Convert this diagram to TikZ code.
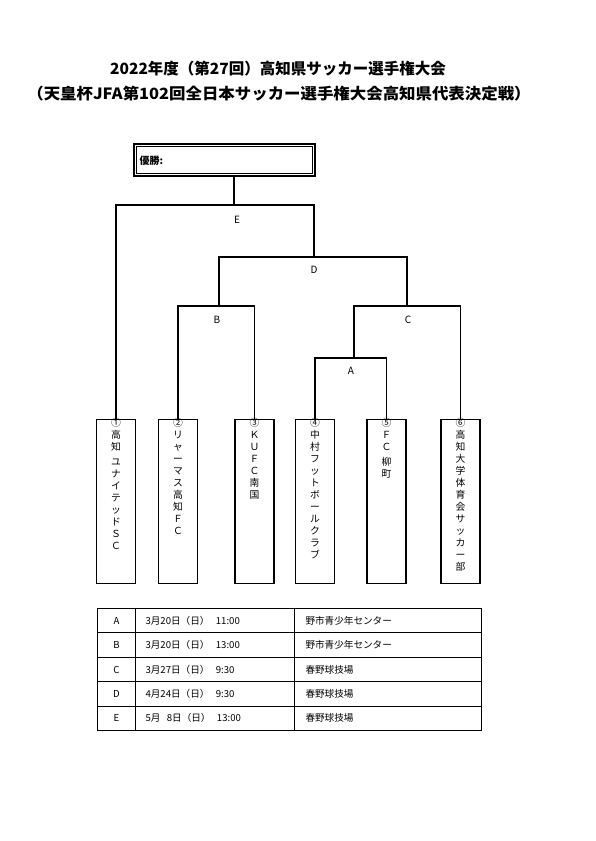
\documentclass[tikz,border=0pt]{standalone}
\usepackage{fontspec}
\setmainfont{Noto Sans CJK JP}
\begin{document}
\begin{tikzpicture}[x=1pt,y=-1pt,
  line width=1.1pt,
  team/.style={draw,line width=1.3pt,minimum width=39pt,minimum height=164pt,anchor=north,inner sep=0pt},
  vtext/.style={anchor=north,align=center,font=\fontsize{9.8}{12}\selectfont,inner sep=0pt},
  lbl/.style={font=\fontsize{10}{12}\selectfont},
  cell/.style={draw,line width=1pt,anchor=north west,minimum height=24.4pt,inner sep=0pt,font=\fontsize{9.6}{11}\selectfont},
  title/.style={font=\fontsize{15.5}{18}\selectfont\bfseries}]
\useasboundingbox (0,0) rectangle (595,841);
% titles
\node[title] (t1title) at (278,69) {2022年度（第27回）高知県サッカー選手権大会};
\node[title] (t2title) at (279,94) {\scalebox{1.06}[1]{（天皇杯JFA第102回全日本サッカー選手権大会高知県代表決定戦）}};
% winner box
\node[draw,line width=1.3pt,minimum width=181pt,minimum height=32pt,inner sep=0pt] (w) at (224.5,160) {};
\node[draw,line width=0.8pt,minimum width=176pt,minimum height=27pt,inner sep=0pt] (wi) at (224.5,160) {};
\node[anchor=west,font=\fontsize{10}{12}\selectfont\bfseries,inner sep=0pt] (wt) at (139,161) {優勝:};
% teams
\node[team] (p1) at (116,419) {};
\node[team] (p2) at (178,419) {};
\node[team] (p3) at (254.5,419) {};
\node[team] (p4) at (315,419) {};
\node[team] (p5) at (386.5,419) {};
\node[team] (p6) at (460.5,419) {};
\node[vtext] (n1) at (116,418) {①\\高\\知\\[3pt]ユ\\ナ\\イ\\テ\\ッ\\ド\\Ｓ\\Ｃ};
\node[vtext] (n2) at (178,418) {②\\リ\\ャ\\ー\\マ\\ス\\高\\知\\Ｆ\\Ｃ};
\node[vtext] (n3) at (254.5,418) {③\\Ｋ\\Ｕ\\Ｆ\\Ｃ\\南\\国};
\node[vtext] (n4) at (315,418) {④\\中\\村\\フ\\ッ\\ト\\ボ\\ー\\ル\\ク\\ラ\\ブ};
\node[vtext] (n5) at (386.5,418) {⑤\\Ｆ\\Ｃ\\[3pt]柳\\町};
\node[vtext] (n6) at (460.5,418) {⑥\\高\\知\\大\\学\\体\\育\\会\\サ\\ッ\\カ\\ー\\部};
% bracket coordinates
\coordinate (eC) at (234,205);
\coordinate (wS) at (234,176);
\coordinate (dTop) at (314,257);
\coordinate (bTop) at (219,306);
\coordinate (cTop) at (407,306);
\coordinate (aTop) at (354,358);
\draw (wS) -- (eC);
\draw (p1.north) |- (eC) -| (dTop);
\draw (bTop) |- (dTop) -| (cTop);
\draw (p2.north) |- (bTop) -| (p3.north);
\draw (aTop) |- (cTop) -| (p6.north);
\draw (p4.north) |- (aTop) -| (p5.north);
% labels
\node[lbl] (lE) at (237,220) {E};
\node[lbl] (lD) at (314,270) {D};
\node[lbl] (lB) at (217,320) {B};
\node[lbl] (lC) at (408,320) {C};
\node[lbl] (lA) at (351,371) {A};
% table
\foreach \r/\m/\d/\p [count=\i from 0] in {A/3月20日（日）\ \ 11:00/x/野市青少年センター, B/3月20日（日）\ \ 13:00/x/野市青少年センター, C/3月27日（日）\ \ 9:30/x/春野球技場, D/4月24日（日）\ \ 9:30/x/春野球技場, E/5月\ \ 8日（日）\ \ 13:00/x/春野球技場}{
  \node[cell,minimum width=38pt] (a\i) at (97,608+24.4*\i) {\r};
  \node[cell,minimum width=159pt,text width=139pt,align=left,inner xsep=10pt] (b\i) at (135,608+24.4*\i) {\m};
  \node[cell,minimum width=187pt,text width=165pt,align=left,inner xsep=11pt] (c\i) at (294,608+24.4*\i) {\p};
}
\end{tikzpicture}
\end{document}
